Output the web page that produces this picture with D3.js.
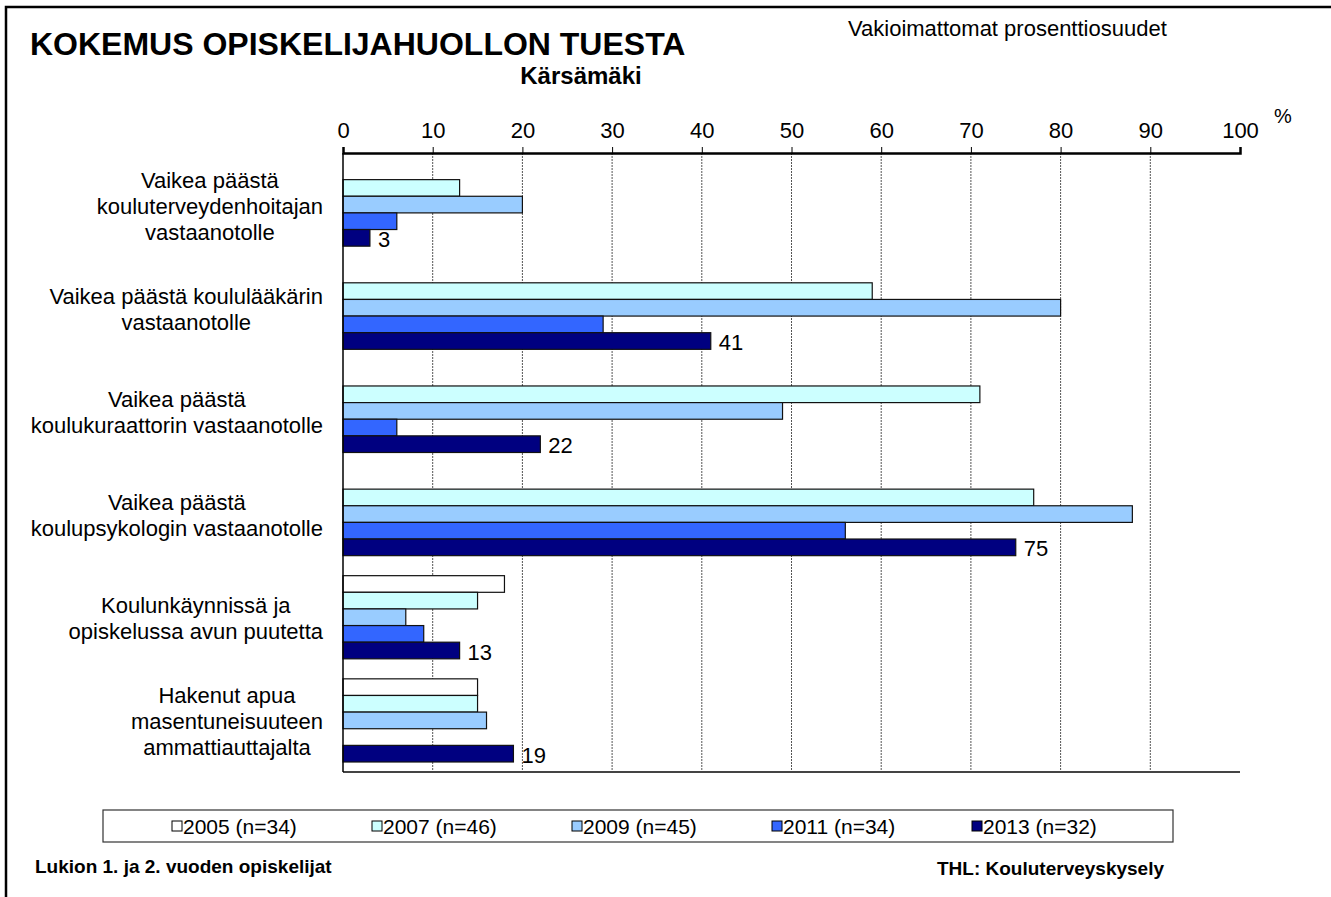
<!DOCTYPE html>
<html>
<head>
<meta charset="utf-8">
<script src="https://cdn.jsdelivr.net/npm/d3@7"></script>
<style>
  body { margin: 0; background: #fff; }
  svg { font-family: Arial, "Liberation Sans", sans-serif; display: block; }
</style>
</head>
<body>
<svg id="chart" width="1331" height="897"></svg>
<script>
// categories (label lines) and values per survey year, null = no bar
var categories = [
    ["Vaikea päästä", "kouluterveydenhoitajan", "vastaanotolle"],
    ["Vaikea päästä koululääkärin", "vastaanotolle"],
    ["Vaikea päästä", "koulukuraattorin vastaanotolle"],
    ["Vaikea päästä", "koulupsykologin vastaanotolle"],
    ["Koulunkäynnissä ja", "opiskelussa avun puutetta"],
    ["Hakenut apua", "masentuneisuuteen", "ammattiauttajalta"]
];
var seriesNames = ["2005 (n=34)", "2007 (n=46)", "2009 (n=45)", "2011 (n=34)", "2013 (n=32)"];
var seriesColors = ["#ffffff", "#ccffff", "#99ccff", "#3366ff", "#000080"];
var v2005 = [null, null, null, null, 18, 15];
var v2007 = [13, 59, 71, 77, 15, 15];
var v2009 = [20, 80, 49, 88, 7, 16];
var v2011 = [6, 29, 6, 56, 9, null];
var v2013 = [3, 41, 22, 75, 13, 19];
var xTicks = [0, 10, 20, 30, 40, 50, 60, 70, 80, 90, 100];

var seriesValues = [v2005, v2007, v2009, v2011, v2013];

var svg = d3.select("#chart");

// outer frame
svg.append("rect")
    .attr("x", 6).attr("y", 7)
    .attr("width", 1400).attr("height", 1000)
    .attr("fill", "none")
    .attr("stroke", "#000")
    .attr("stroke-width", 2.5);

// titles
svg.append("text").attr("x", 30).attr("y", 55)
    .style("font-size", "32px").style("font-weight", "bold")
    .text("KOKEMUS OPISKELIJAHUOLLON TUESTA");
svg.append("text").attr("x", 581).attr("y", 84)
    .attr("text-anchor", "middle")
    .style("font-size", "24px").style("font-weight", "bold")
    .text("Kärsämäki");
svg.append("text").attr("x", 848).attr("y", 36)
    .style("font-size", "22px")
    .text("Vakioimattomat prosenttiosuudet");

var plotLeft = 343, plotRight = 1240, plotTop = 153, plotBottom = 772;

var x = d3.scaleLinear().domain([0, 100]).range([plotLeft, plotRight]);
var y = d3.scaleBand().domain(d3.range(categories.length)).range([plotTop, plotBottom]);
var inner = d3.scaleBand().domain(d3.range(seriesNames.length))
    .range([y.bandwidth() * 0.097, y.bandwidth() * 0.903]);

// grid lines
svg.append("g").selectAll("line")
    .data(xTicks.slice(1, -1))
    .enter().append("line")
    .attr("x1", d => x(d)).attr("x2", d => x(d))
    .attr("y1", plotTop).attr("y2", plotBottom)
    .attr("stroke", "#555")
    .attr("stroke-width", 1)
    .attr("stroke-dasharray", "2,1");

// bars
var groups = svg.append("g").selectAll("g")
    .data(categories)
    .enter().append("g")
    .attr("transform", (d, i) => "translate(0," + y(i) + ")");

groups.each(function (c, ci) {
    var g = d3.select(this);
    seriesValues.forEach((vals, si) => {
        var v = vals[ci];
        if (v === null) return;
        g.append("rect")
            .attr("x", x(0))
            .attr("y", inner(si))
            .attr("width", x(v) - x(0))
            .attr("height", inner.bandwidth())
            .attr("fill", seriesColors[si])
            .attr("stroke", "#111")
            .attr("stroke-width", 1.2);
    });
    // value label for the latest year
    var last = seriesValues.length - 1;
    var lv = seriesValues[last][ci];
    if (lv !== null) {
        g.append("text")
            .attr("x", x(lv) + 8)
            .attr("y", inner(last) + inner.bandwidth() / 2 + 9)
            .style("font-size", "22px")
            .text(lv);
    }
});

// category labels: block right-aligned, lines centered inside
var labelRight = 323;
groups.each(function (lines) {
    var g = d3.select(this);
    var lineH = 26;
    var cy = y.bandwidth() / 2;
    var texts = g.append("g").selectAll("text").data(lines).enter().append("text")
        .attr("y", (d, i) => cy + (i - (lines.length - 1) / 2) * lineH + 9)
        .style("font-size", "22px")
        .attr("text-anchor", "middle")
        .text(d => d);
    var maxW = 0;
    texts.each(function () { maxW = Math.max(maxW, this.getComputedTextLength()); });
    texts.attr("x", labelRight - maxW / 2);
});

// axes lines
svg.append("line").attr("x1", plotLeft).attr("x2", plotRight).attr("y1", plotBottom).attr("y2", plotBottom)
    .attr("stroke", "#444").attr("stroke-width", 2);
svg.append("line").attr("x1", plotLeft).attr("x2", plotLeft).attr("y1", plotTop).attr("y2", plotBottom)
    .attr("stroke", "#000").attr("stroke-width", 1.5);

var axis = d3.axisTop(x).tickValues(xTicks).tickSize(6).tickPadding(9);
var ax = svg.append("g").attr("transform", "translate(0," + plotTop + ")").call(axis);
ax.select(".domain").attr("stroke", "#000").attr("stroke-width", 2.5);
ax.selectAll(".tick line").attr("stroke", "#000");
ax.selectAll(".tick text").style("font-size", "22px").style("font-family", "Arial, 'Liberation Sans', sans-serif").attr("fill", "#000");

svg.append("text").attr("x", 1274).attr("y", 123)
    .style("font-size", "20px").text("%");

// legend
svg.append("rect").attr("x", 103).attr("y", 810).attr("width", 1070).attr("height", 32)
    .attr("fill", "#fff").attr("stroke", "#333").attr("stroke-width", 1.2);
var leg = svg.append("g").selectAll("g")
    .data(seriesNames)
    .enter().append("g")
    .attr("transform", (d, i) => "translate(" + (172 + i * 200) + ",826)");
leg.append("rect").attr("x", 0).attr("y", -5).attr("width", 10).attr("height", 10)
    .attr("fill", (d, i) => seriesColors[i]).attr("stroke", "#000").attr("stroke-width", 1);
leg.append("text").attr("x", 11).attr("y", 8)
    .style("font-size", "21px").text(d => d);

// footer
svg.append("text").attr("x", 35).attr("y", 873)
    .style("font-size", "19px").style("font-weight", "bold")
    .text("Lukion 1. ja 2. vuoden opiskelijat");
svg.append("text").attr("x", 937).attr("y", 875)
    .style("font-size", "19px").style("font-weight", "bold")
    .text("THL: Kouluterveyskysely");
</script>
</body>
</html>
